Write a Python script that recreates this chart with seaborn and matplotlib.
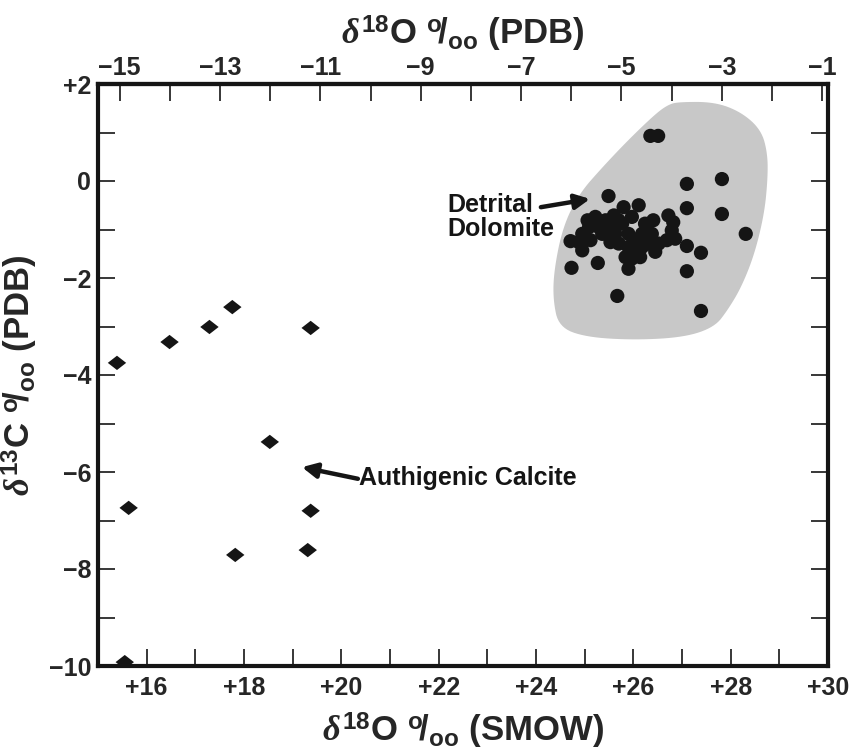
import numpy as np
import pandas as pd
import seaborn as sns
import matplotlib.pyplot as plt
from matplotlib.path import Path
from matplotlib.ticker import FixedLocator, FuncFormatter

# detrital dolomite, d18O (SMOW) / d13C (PDB)
dol_o18 = [26.35, 26.51, 27.10, 27.82, 25.49, 27.10, 27.82, 28.31, 24.71, 24.73,
           25.27, 25.90, 25.67, 27.10, 27.39, 27.10, 27.39,
           25.06, 25.22, 25.43, 25.60, 25.80, 26.11, 25.97, 25.77, 25.56, 25.36,
           25.09, 24.95, 24.88, 24.95, 25.12, 25.70, 25.90, 25.84, 26.04, 26.18,
           26.24, 26.41, 26.72, 26.82, 26.79, 26.69, 26.52, 26.38, 26.18, 26.04,
           26.45, 26.86, 25.63, 25.29, 26.31, 25.90, 25.97, 26.14, 25.53, 25.70]
dol_c13 = [0.93, 0.93, -0.06, 0.04, -0.31, -0.56, -0.68, -1.09, -1.24, -1.79,
           -1.69, -1.81, -2.37, -1.34, -1.48, -1.86, -2.68,
           -0.81, -0.74, -0.81, -0.71, -0.54, -0.50, -0.74, -0.88, -0.95, -1.09,
           -0.95, -1.09, -1.26, -1.43, -1.22, -1.29, -1.36, -1.57, -1.50, -1.36,
           -0.88, -0.81, -0.71, -0.85, -1.02, -1.22, -1.29, -1.09, -1.09, -1.22,
           -1.46, -1.19, -1.09, -0.95, -1.29, -1.09, -1.60, -1.57, -1.26, -0.81]

# authigenic calcite
cal_o18 = [15.39, 16.47, 17.29, 17.76, 19.37, 18.53, 15.63, 19.37, 17.82, 19.31, 15.55]
cal_c13 = [-3.75, -3.32, -3.01, -2.60, -3.03, -5.38, -6.74, -6.80, -7.71, -7.61, -9.92]

# outline of the shaded dolomite field
field_o18 = [26.92, 27.67, 28.22, 28.63, 28.76, 28.76, 28.69, 28.49, 28.22, 27.94,
             27.67, 27.06, 26.04, 25.02, 24.47, 24.35, 24.37, 24.55, 24.88, 25.37,
             25.90, 26.45, 26.71]
field_c13 = [1.63, 1.63, 1.42, 1.05, 0.56, 0.02, -0.68, -1.51, -2.19, -2.66,
             -3.01, -3.22, -3.28, -3.22, -3.01, -2.45, -1.84, -0.95, -0.27, 0.29,
             0.85, 1.38, 1.57]

smow_ticks = [16, 18, 20, 22, 24, 26, 28, 30]
pdb_o_ticks = [-15, -13, -11, -9, -7, -5, -3, -1]
c_ticks = [-10, -8, -6, -4, -2, 0, 2]


def smow_to_pdb(x):
    return (np.asarray(x) - 30.91) / 1.03091


def pdb_to_smow(x):
    return 1.03091 * np.asarray(x) + 30.91


def chaikin(x, y, n=3):
    pts = np.column_stack([x, y])
    for _ in range(n):
        nxt = np.roll(pts, -1, axis=0)
        new = np.empty((2 * len(pts), 2))
        new[0::2] = 0.75 * pts + 0.25 * nxt
        new[1::2] = 0.25 * pts + 0.75 * nxt
        pts = new
    return pts[:, 0], pts[:, 1]


def signed(v, pos=None):
    v = int(round(v))
    if v > 0:
        return '+%d' % v
    if v < 0:
        return '\u2212%d' % abs(v)
    return '0'


sns.set_style('ticks')
plt.rcParams['font.family'] = ['Liberation Sans', 'DejaVu Sans']
plt.rcParams['font.weight'] = 'bold'
plt.rcParams['mathtext.fontset'] = 'custom'
plt.rcParams['mathtext.rm'] = 'Liberation Sans'
plt.rcParams['mathtext.bf'] = 'Liberation Sans:bold'
plt.rcParams['mathtext.it'] = 'Liberation Serif:italic'

dol = pd.DataFrame({'o18': dol_o18, 'c13': dol_c13})
cal = pd.DataFrame({'o18': cal_o18, 'c13': cal_c13})

diamond = Path([(-1, 0), (0, 0.78), (1, 0), (0, -0.78), (-1, 0)],
               [Path.MOVETO, Path.LINETO, Path.LINETO, Path.LINETO, Path.CLOSEPOLY])

fig = plt.figure(figsize=(8.51, 7.55), dpi=100)
ax = fig.add_axes([98 / 851, 1 - 666 / 755, 730 / 851, 582 / 755])

fx, fy = chaikin(field_o18, field_c13)
ax.fill(fx, fy, color='#c8c8c8', lw=0, zorder=1)

sns.scatterplot(data=dol, x='o18', y='c13', ax=ax, color='#151515', s=105,
                marker='o', edgecolor='none', zorder=3)
sns.scatterplot(data=cal, x='o18', y='c13', ax=ax, color='#151515', s=175,
                marker=diamond, edgecolor='none', zorder=3)

ax.set_xlim(15, 30)
ax.set_ylim(-10, 2)

lbl = dict(fontsize=25, fontweight='bold')
permil = r'$^{\mathrm{o}}\!/_{\mathrm{oo}}$'
ax.set_xlabel(r'$\delta^{\mathbf{18}}$O ' + permil + ' (SMOW)', labelpad=8, **lbl)
ax.set_ylabel(r'$\delta^{\mathbf{13}}$C ' + permil + ' (PDB)', labelpad=6, **lbl)

ax.xaxis.set_major_locator(FixedLocator(smow_ticks))
ax.xaxis.set_minor_locator(FixedLocator(np.arange(15, 30, 2)))
ax.yaxis.set_major_locator(FixedLocator(c_ticks))
ax.yaxis.set_minor_locator(FixedLocator(np.arange(-9, 2, 2)))
ax.xaxis.set_major_formatter(FuncFormatter(signed))
ax.yaxis.set_major_formatter(FuncFormatter(signed))
ax.tick_params(which='both', direction='in', length=12, width=1.2,
               labelsize=18, right=True, top=False, color='#151515')
ax.tick_params(axis='x', pad=7)
ax.tick_params(axis='y', pad=5)
for lab in ax.get_xticklabels() + ax.get_yticklabels():
    lab.set_fontweight('bold')

top = ax.secondary_xaxis('top', functions=(smow_to_pdb, pdb_to_smow))
top.xaxis.set_major_locator(FixedLocator(pdb_o_ticks))
top.xaxis.set_minor_locator(FixedLocator(np.arange(-14, -1, 2)))
top.xaxis.set_major_formatter(FuncFormatter(signed))
top.tick_params(which='both', direction='in', length=12, width=1.2,
                labelsize=18, pad=3, color='#151515')
top.set_xlabel(r'$\delta^{\mathbf{18}}$O ' + permil + ' (PDB)', labelpad=8, **lbl)
for lab in top.get_xticklabels():
    lab.set_fontweight('bold')
top.spines['top'].set_linewidth(3)

for sp in ax.spines.values():
    sp.set_linewidth(3)
    sp.set_color('#151515')
    sp.set_visible(True)

arrow = dict(arrowstyle='-|>', lw=3.2, color='#151515', mutation_scale=22,
             shrinkA=0, shrinkB=0)
ax.annotate('', xy=(25.11, -0.37), xytext=(24.10, -0.54), arrowprops=arrow)
ax.text(22.17, -0.74, 'Detrital\nDolomite', fontsize=18, fontweight='bold',
        ha='left', va='center', linespacing=1.0, color='#151515')
ax.annotate('', xy=(19.19, -5.90), xytext=(20.34, -6.14), arrowprops=arrow)
ax.text(20.36, -6.12, 'Authigenic Calcite', fontsize=18, fontweight='bold',
        ha='left', va='center', color='#151515')

plt.savefig('out.png', dpi=100)
